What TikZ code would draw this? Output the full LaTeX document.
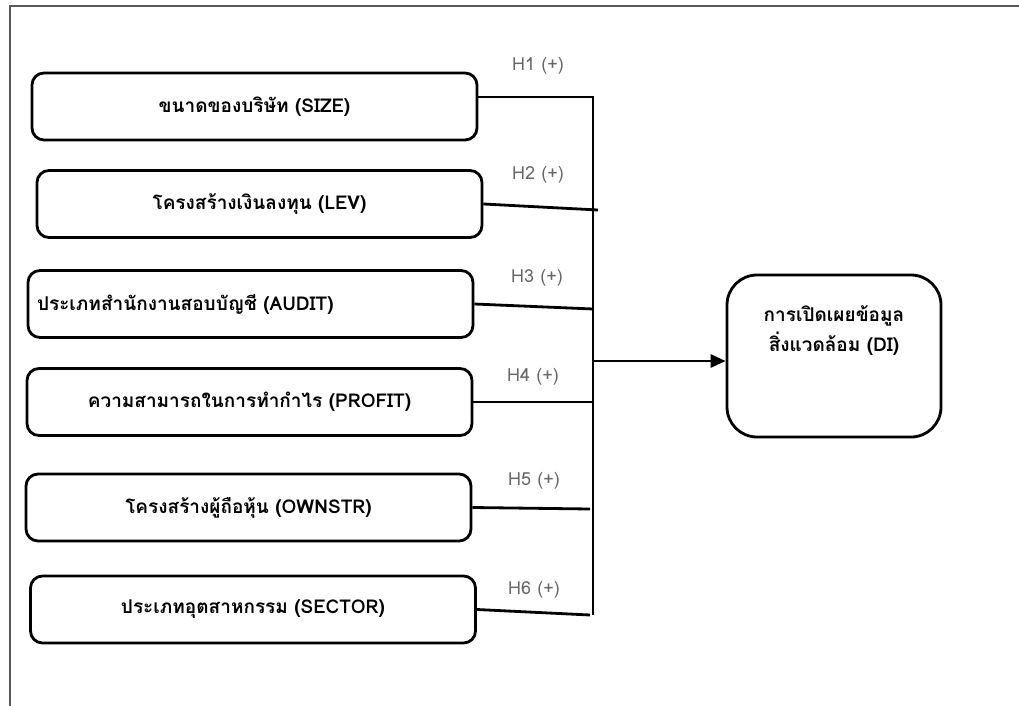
\documentclass[tikz,border=0pt]{standalone}
\usepackage{fontspec}
\setmainfont[Script=Thai]{Loma}
\usetikzlibrary{arrows.meta,calc}
\begin{document}
\begin{tikzpicture}[x=1pt,y=-1pt,
  box/.style={draw,line width=2.8pt,rounded corners=12pt,minimum width=445pt,minimum height=67pt,inner sep=0pt,font=\fontsize{19}{22}\selectfont\bfseries},
  conn/.style={line width=2.8pt},
  hyp/.style={text=black!60,font=\fontsize{18}{20}\selectfont,inner sep=0pt},
  frameline/.style={draw=black!65,line width=1.5pt}]
\useasboundingbox (0,0) rectangle (1019,706);
\draw[frameline] (1019,6) -- (10,6) -- (10,706);

\node[box] (b1) at (254.5,106.5) {ขนาดของบริษัท (SIZE)};
\node[box] (b2) at (259.5,204) {โครงสร้างเงินลงทุน (LEV)};
\node[box,text width=427pt,align=left] (b3) at (250.5,304) {ประเภทสำนักงานสอบบัญชี (AUDIT)};
\node[box] (b4) at (249.5,402) {ความสามารถในการทำกำไร (PROFIT)};
\node[box] (b5) at (248.5,507.5) {โครงสร้างผู้ถือหุ้น (OWNSTR)};
\node[box] (b6) at (253,609.5) {ประเภทอุตสาหกรรม (SECTOR)};

\node[draw,line width=2.8pt,rounded corners=30pt,minimum width=214pt,minimum height=162pt] (di) at (834,356) {};
\node[font=\fontsize{19}{30}\selectfont\bfseries,align=center,inner sep=0pt] (dit) at (834,331) {การเปิดเผยข้อมูล\\สิ่งแวดล้อม (DI)};

\node[hyp] (h1) at (538,66) {H1 (+)};
\node[hyp] (h2) at (538,175) {H2 (+)};
\node[hyp] (h3) at (537,278) {H3 (+)};
\node[hyp] (h4) at (533,377) {H4 (+)};
\node[hyp] (h5) at (534,481) {H5 (+)};
\node[hyp] (h6) at (534,590) {H6 (+)};

\coordinate (j1) at (593,97);
\coordinate (j2) at (598,210);
\coordinate (j3) at (593,309);
\coordinate (j4) at (593,402);
\coordinate (j5) at (590,509);
\coordinate (j6) at (593,615);
\coordinate (j6b) at (590,615);
\coordinate (jm) at (593,361);

\draw[conn] (b1.east |- j1) -- (j1) -- (j6);
\draw[conn] (b2.east) -- (j2);
\draw[conn] (b3.east) -- (j3);
\draw[conn] (b4.east) -- (j4);
\draw[conn] (b5.east) -- (j5);
\draw[conn] (b6.east) -- (j6b);
\draw[conn,-{Triangle[length=15pt,width=13pt]}] (jm) -- (di.west |- jm);
\end{tikzpicture}
\end{document}
